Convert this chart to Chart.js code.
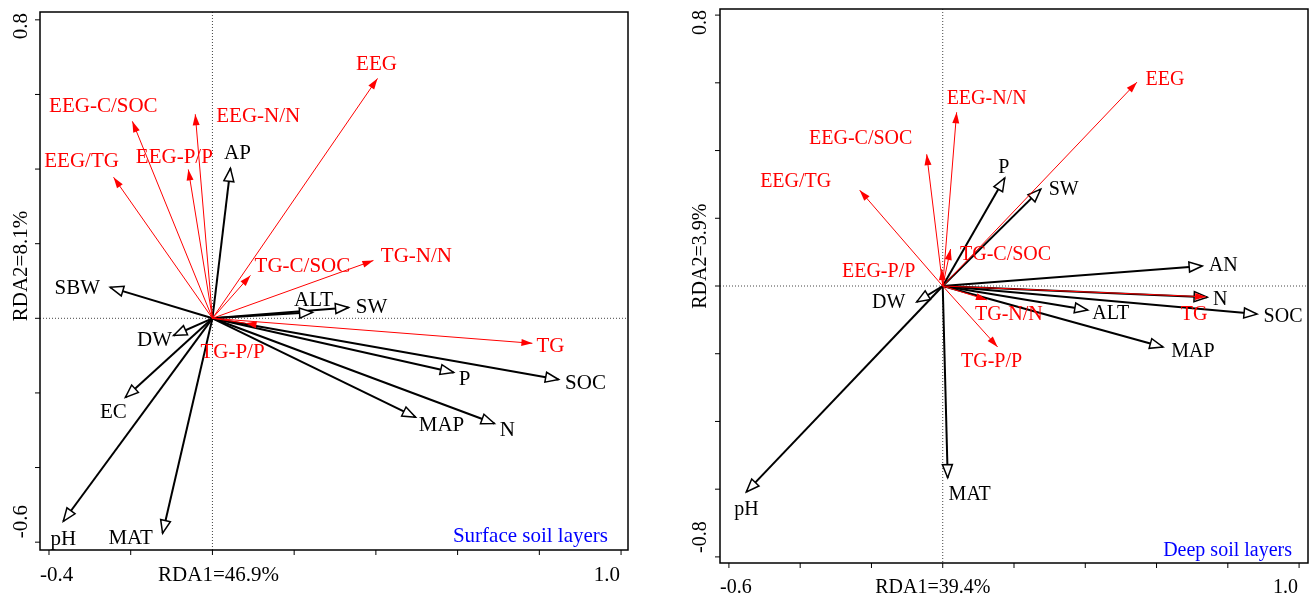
<!DOCTYPE html>
<html>
<head>
<meta charset="utf-8">
<script src="https://cdn.jsdelivr.net/npm/chart.js@4.4.1/dist/chart.umd.min.js"></script>
<style>
  html, body { margin: 0; padding: 0; background: #fff; }
  #wrap { position: relative; width: 1312px; height: 599px; }
  .panel { position: absolute; top: 0; width: 656px; height: 599px; }
</style>
</head>
<body>
<div id="wrap">
  <div class="panel" style="left:0"><canvas id="surf"></canvas></div>
  <div class="panel" style="left:656px"><canvas id="deep"></canvas></div>
</div>
<script>
// ---- Surface soil layers ----
const surfRespNames = ["EEG", "EEG-C/SOC", "EEG-N/N", "EEG/TG", "EEG-P/P", "TG-C/SOC", "TG-N/N", "TG", "TG-P/P"];
const surfRespX = [0.404, -0.196, -0.042, -0.242, -0.059, 0.093, 0.394, 0.783, 0.081];
const surfRespY = [0.643, 0.528, 0.547, 0.378, 0.399, 0.115, 0.155, -0.067, -0.013];

const surfEnvNames = ["AP", "SBW", "ALT", "SW", "DW", "EC", "pH", "MAT", "P", "SOC", "MAP", "N"];
const surfEnvX = [0.044, -0.250, 0.245, 0.333, -0.095, -0.213, -0.365, -0.122, 0.590, 0.847, 0.497, 0.690];
const surfEnvY = [0.402, 0.083, 0.016, 0.029, -0.046, -0.212, -0.544, -0.576, -0.145, -0.164, -0.265, -0.282];

// ---- Deep soil layers ----
const deepRespNames = ["EEG", "EEG-N/N", "EEG-C/SOC", "EEG/TG", "EEG-P/P", "TG-C/SOC", "TG-N/N", "TG-P/P", "TG"];
const deepRespX = [0.545, 0.039, -0.045, -0.233, -0.003, 0.022, 0.124, 0.154, 0.739];
const deepRespY = [0.602, 0.513, 0.389, 0.283, 0.050, 0.109, -0.041, -0.180, -0.032];

const deepEnvNames = ["AN", "P", "SW", "N", "SOC", "ALT", "MAP", "DW", "pH", "MAT"];
const deepEnvX = [0.728, 0.174, 0.275, 0.742, 0.882, 0.407, 0.618, -0.073, -0.551, 0.014];
const deepEnvY = [0.059, 0.319, 0.286, -0.033, -0.083, -0.071, -0.180, -0.047, -0.608, -0.566];

// axis ticks
const surfXTicks = [-0.4, -0.2, 0, 0.2, 0.4, 0.6, 0.8, 1.0];
const surfYTicks = [-0.6, -0.4, -0.2, 0, 0.2, 0.4, 0.6, 0.8];
const deepXTicks = [-0.6, -0.4, -0.2, 0, 0.2, 0.4, 0.6, 0.8, 1.0];
const deepYTicks = [-0.8, -0.6, -0.4, -0.2, 0, 0.2, 0.4, 0.6, 0.8];

// label offsets from arrow tips (px)
const surfLabelOff = {
  "EEG": [-1, -14], "EEG-C/SOC": [-29, -15], "EEG-N/N": [63, 2], "EEG/TG": [-32, -16],
  "EEG-P/P": [-14, -12], "TG-C/SOC": [52, -9], "TG-N/N": [43, -4], "TG": [18, 3], "TG-P/P": [-13, 29],
  "AP": [7, -15], "SBW": [-33, 1], "ALT": [1, -12], "SW": [23, 0], "DW": [-19, 5], "EC": [-12, 15],
  "pH": [0, 18], "MAT": [-32, 5], "P": [11, 7], "SOC": [27, 4], "MAP": [26, 8], "N": [13, 7]
};
const deepLabelOff = {
  "EEG": [28, -2], "EEG-N/N": [30, -14], "EEG-C/SOC": [-66, -16], "EEG/TG": [-64, -8],
  "EEG-P/P": [-63, 3], "TG-C/SOC": [55, 6], "TG-N/N": [22, 15], "TG-P/P": [-6, 15], "TG": [-12, 18],
  "AN": [21, 0], "P": [-1, -10], "SW": [23, 1], "N": [13, 3], "SOC": [26, 3], "ALT": [23, 4],
  "MAP": [30, 5], "DW": [-28, 1], "pH": [0, 18], "MAT": [22, 17]
};

const FONT = "'Liberation Serif', 'Times New Roman', serif";

function arrowSets(names, xs, ys, color, width, head, flipped) {
  return names.map((n, i) => ({
    label: n,
    data: [{ x: 0, y: 0 }, { x: xs[i], y: ys[i] }],
    showLine: true,
    borderColor: color,
    borderWidth: width,
    pointRadius: 0,
    pointHoverRadius: 0,
    head: head,
    flip: flipped.includes(n)
  }));
}

const rdaPlugin = {
  id: "rda",
  beforeDatasetsDraw(chart) {
    const { ctx, chartArea: a, scales: { x, y } } = chart;
    const x0 = x.getPixelForValue(0), y0 = y.getPixelForValue(0);
    ctx.save();
    ctx.strokeStyle = "#444";
    ctx.lineWidth = 1;
    ctx.setLineDash([1, 2]);
    ctx.beginPath();
    ctx.moveTo(x0, a.top); ctx.lineTo(x0, a.bottom);
    ctx.moveTo(a.left, y0); ctx.lineTo(a.right, y0);
    ctx.stroke();
    ctx.restore();
  },
  afterDatasetDraw(chart, args) {
    const ds = chart.data.datasets[args.index];
    const p0 = args.meta.data[0], p1 = args.meta.data[1];
    let dx = p1.x - p0.x, dy = p1.y - p0.y;
    const len = Math.hypot(dx, dy) || 1;
    let ux = dx / len, uy = dy / len;
    if (ds.flip) { ux = -ux; uy = -uy; }
    const nx = -uy, ny = ux;
    const open = ds.head === "open";
    const L = open ? 13 : 11, W = open ? 5 : 3.5;
    const bx = p1.x - ux * L, by = p1.y - uy * L;
    const ctx = chart.ctx;
    ctx.save();
    ctx.beginPath();
    ctx.moveTo(p1.x, p1.y);
    ctx.lineTo(bx + nx * W, by + ny * W);
    ctx.lineTo(bx - nx * W, by - ny * W);
    ctx.closePath();
    if (open) {
      ctx.fillStyle = "#fff";
      ctx.fill();
      ctx.strokeStyle = "#000";
      ctx.lineWidth = 1.5;
      ctx.lineJoin = "miter";
      ctx.stroke();
    } else {
      ctx.fillStyle = ds.borderColor;
      ctx.fill();
    }
    ctx.restore();
  },
  afterDraw(chart, args, o) {
    const { ctx, chartArea: a, scales: { x, y } } = chart;
    ctx.save();
    // box
    ctx.strokeStyle = "#000";
    ctx.lineWidth = 1.5;
    ctx.strokeRect(a.left, a.top, a.right - a.left, a.bottom - a.top);
    // tick marks
    ctx.lineWidth = 1;
    ctx.beginPath();
    o.xTicks.forEach(v => {
      const px = x.getPixelForValue(v);
      ctx.moveTo(px, a.bottom); ctx.lineTo(px, a.bottom + 5);
    });
    o.yTicks.forEach(v => {
      const py = y.getPixelForValue(v);
      ctx.moveTo(a.left, py); ctx.lineTo(a.left - 5, py);
    });
    ctx.stroke();

    const font = o.size + "px " + FONT;
    ctx.font = font;
    ctx.fillStyle = "#000";
    ctx.textBaseline = "middle";
    // x axis labels
    const xl = a.bottom + 25;
    ctx.textAlign = "left";
    ctx.fillText(String(o.xTicks[0].toFixed(1)), a.left, xl);
    ctx.textAlign = "right";
    ctx.fillText(o.xTicks[o.xTicks.length - 1].toFixed(1), x.getPixelForValue(o.xTicks[o.xTicks.length - 1]) - 1, xl);
    ctx.textAlign = "center";
    ctx.fillText(o.xTitle, x.getPixelForValue(o.xTitleAt), xl);
    // y axis labels (rotated)
    const yl = a.left - 19;
    const rot = (txt, py, align) => {
      ctx.save();
      ctx.translate(yl, py);
      ctx.rotate(-Math.PI / 2);
      ctx.textAlign = align;
      ctx.fillText(txt, 0, 0);
      ctx.restore();
    };
    rot(o.yTicks[o.yTicks.length - 1].toFixed(1), a.top + 1, "right");
    rot(o.yTicks[0].toFixed(1), y.getPixelForValue(o.yTicks[0]) - 4, "left");
    rot(o.yTitle, y.getPixelForValue(o.yTitleAt), "center");

    // arrow labels
    chart.data.datasets.forEach((ds, i) => {
      const p1 = chart.getDatasetMeta(i).data[1];
      const off = o.offsets[ds.label] || [0, 0];
      ctx.fillStyle = ds.borderColor;
      ctx.textAlign = "center";
      ctx.fillText(ds.label, p1.x + off[0], p1.y + off[1]);
    });

    // panel name
    ctx.fillStyle = "#0000FF";
    ctx.textAlign = "right";
    ctx.fillText(o.panel, a.right - o.panelRight, a.bottom - o.panelUp);
    ctx.restore();
  }
};

function makeChart(id, resp, env, ranges, padding, opts) {
  return new Chart(document.getElementById(id), {
    type: "scatter",
    data: {
      datasets: [
        ...arrowSets(resp[0], resp[1], resp[2], "#FF0000", 1, "filled", ["TG-P/P"].filter(() => opts.flipTGPP)),
        ...arrowSets(env[0], env[1], env[2], "#000000", 2, "open", [])
      ]
    },
    options: {
      responsive: true,
      maintainAspectRatio: false,
      animation: false,
      events: [],
      layout: { padding: padding },
      scales: {
        x: { type: "linear", display: false, min: ranges[0], max: ranges[1] },
        y: { type: "linear", display: false, min: ranges[2], max: ranges[3] }
      },
      plugins: {
        legend: { display: false },
        tooltip: { enabled: false },
        rda: opts
      }
    },
    plugins: [rdaPlugin]
  });
}

makeChart("surf",
  [surfRespNames, surfRespX, surfRespY],
  [surfEnvNames, surfEnvX, surfEnvY],
  [-0.422, 1.017, -0.621, 0.821],
  { left: 40, top: 12, right: 28, bottom: 49 },
  {
    size: 21, xTicks: surfXTicks, yTicks: surfYTicks,
    xTitle: "RDA1=46.9%", xTitleAt: 0.015, yTitle: "RDA2=8.1%", yTitleAt: 0.14,
    offsets: surfLabelOff, panel: "Surface soil layers", panelRight: 20, panelUp: 14, flipTGPP: true
  });

makeChart("deep",
  [deepRespNames, deepRespX, deepRespY],
  [deepEnvNames, deepEnvX, deepEnvY],
  [-0.625, 1.025, -0.818, 0.818],
  { left: 64, top: 9, right: 4, bottom: 36 },
  {
    size: 20, xTicks: deepXTicks, yTicks: deepYTicks,
    xTitle: "RDA1=39.4%", xTitleAt: -0.028, yTitle: "RDA2=3.9%", yTitleAt: 0.088,
    offsets: deepLabelOff, panel: "Deep soil layers", panelRight: 16, panelUp: 12, flipTGPP: false
  });
</script>
</body>
</html>
